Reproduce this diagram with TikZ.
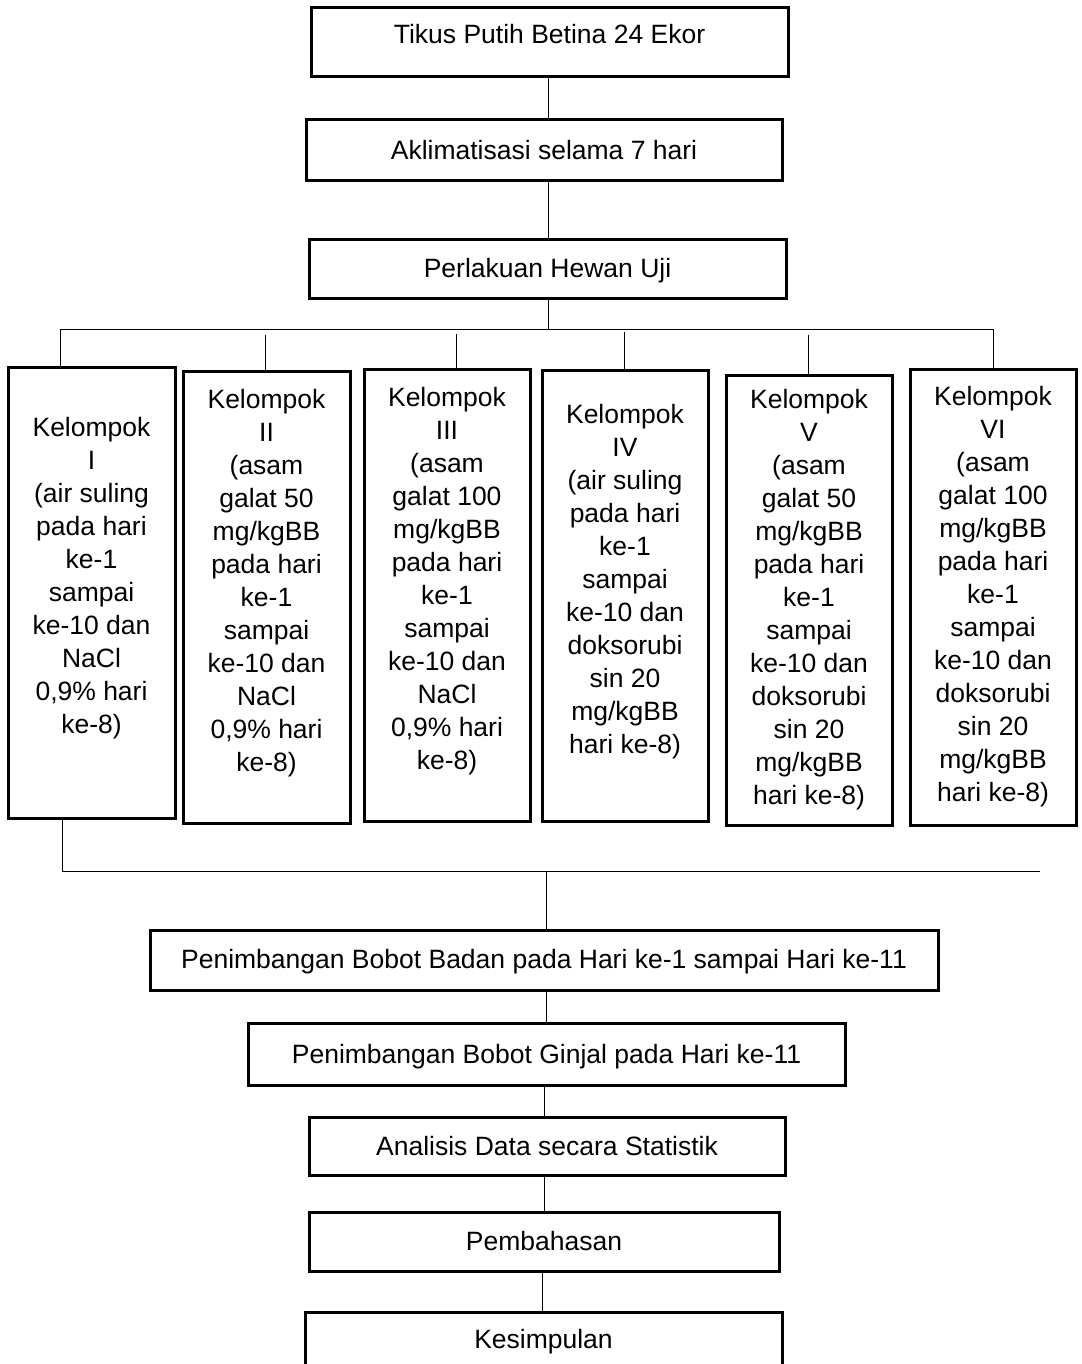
\documentclass[tikz,border=0pt]{standalone}
\usepackage{fontspec}
\setmainfont{Liberation Sans}
\newcommand\kpad{\rule[-1pt]{0pt}{1pt}}
\tikzset{
  txt/.style={font=\fontsize{26.5}{33}\selectfont},
  sbox/.style={txt, draw, line width=3pt, inner sep=0pt, anchor=base},
  kbox/.style={txt, draw, line width=3pt, inner sep=0pt, align=center, minimum width=166pt},
  conn/.style={line width=1pt}
}
\begin{document}
\begin{tikzpicture}[x=1pt,y=-1pt]
\useasboundingbox (0,0) rectangle (1081,1364);
% top chain
\node[sbox, minimum width=477pt, text height=35.5pt, text depth=33.5pt] (t1) at (549.5,43.5) {Tikus Putih Betina 24 Ekor};
\node[sbox, minimum width=476pt, text height=39.5pt, text depth=21.5pt] (t2) at (544,159.5) {Aklimatisasi selama 7 hari};
\node[sbox, minimum width=477pt, text height=37.5pt, text depth=20.5pt] (t3) at (547.5,277.5) {Perlakuan Hewan Uji};
% groups
\node[kbox, minimum height=451pt, minimum width=167pt] (k1) at (91.5,592.5) {Kelompok\\I\\(air suling\\pada hari\\ke-1\\sampai\\ke-10 dan\\NaCl\\0,9\% hari\\ke-8)\\\kpad};
\node[kbox, minimum height=452pt, minimum width=167pt] (k2) at (266.5,597) {Kelompok\\II\\(asam\\galat 50\\mg/kgBB\\pada hari\\ke-1\\sampai\\ke-10 dan\\NaCl\\0,9\% hari\\ke-8)\\\kpad};
\node[kbox, minimum height=452pt] (k3) at (447,595) {Kelompok\\III\\(asam\\galat 100\\mg/kgBB\\pada hari\\ke-1\\sampai\\ke-10 dan\\NaCl\\0,9\% hari\\ke-8)\\\kpad};
\node[kbox, minimum height=451pt] (k4) at (625,595.5) {Kelompok\\IV\\(air suling\\pada hari\\ke-1\\sampai\\ke-10 dan\\doksorubi\\sin 20\\mg/kgBB\\hari ke-8)\\\kpad};
\node[kbox, minimum height=450pt] (k5) at (809,600) {Kelompok\\V\\(asam\\galat 50\\mg/kgBB\\pada hari\\ke-1\\sampai\\ke-10 dan\\doksorubi\\sin 20\\mg/kgBB\\hari ke-8)};
\node[kbox, minimum height=456pt] (k6) at (993,597) {Kelompok\\VI\\(asam\\galat 100\\mg/kgBB\\pada hari\\ke-1\\sampai\\ke-10 dan\\doksorubi\\sin 20\\mg/kgBB\\hari ke-8)};
% bottom chain
\node[sbox, minimum width=788pt, text height=38.5pt, text depth=21.5pt] (pbb) at (544,968.5) {Penimbangan Bobot Badan pada Hari ke-1 sampai Hari ke-11};
\node[sbox, minimum width=597pt, text height=40.5pt, text depth=21.5pt] (pbg) at (546.5,1063.5) {Penimbangan Bobot Ginjal pada Hari ke-11};
\node[sbox, minimum width=476pt, text height=38.5pt, text depth=19.5pt] (an) at (547,1155.5) {Analisis Data secara Statistik};
\node[sbox, minimum width=470pt, text height=38.5pt, text depth=20.5pt] (pem) at (544,1250.5) {Pembahasan};
\node[sbox, minimum width=477pt, text height=36.5pt, text depth=17.5pt] (kes) at (543.5,1348.5) {Kesimpulan};
% connector coordinates
\coordinate (ax) at (548,0);
\coordinate (hl) at (548,329);
\coordinate (d1) at (60,329);
\coordinate (d2) at (265,335);
\coordinate (d3) at (456,334);
\coordinate (d4) at (624,332);
\coordinate (d5) at (808,335);
\coordinate (d6) at (993,329);
\coordinate (e1) at (62,871);
\coordinate (e2) at (1040,871);
\coordinate (em) at (546,871);
\coordinate (fx) at (544,0);
\coordinate (gx) at (542,0);
% connectors
\draw[conn] (t1.south -| ax) -- (ax |- t2.north);
\draw[conn] (t2.south -| ax) -- (ax |- t3.north);
\draw[conn] (t3.south -| hl) -- (hl);
\draw[conn] (d1 |- k1.north) -- (d1) -- (d6) -- (d6 |- k6.north);
\foreach \i in {2,3,4,5} { \draw[conn] (d\i) -- (d\i |- k\i.north); }
\draw[conn] (e1 |- k1.south) -- (e1) -- (e2);
\draw[conn] (em) -- (em |- pbb.north);
\draw[conn] (pbb.south -| em) -- (em |- pbg.north);
\draw[conn] (pbg.south -| fx) -- (fx |- an.north);
\draw[conn] (an.south -| fx) -- (fx |- pem.north);
\draw[conn] (pem.south -| gx) -- (gx |- kes.north);
\end{tikzpicture}
\end{document}
